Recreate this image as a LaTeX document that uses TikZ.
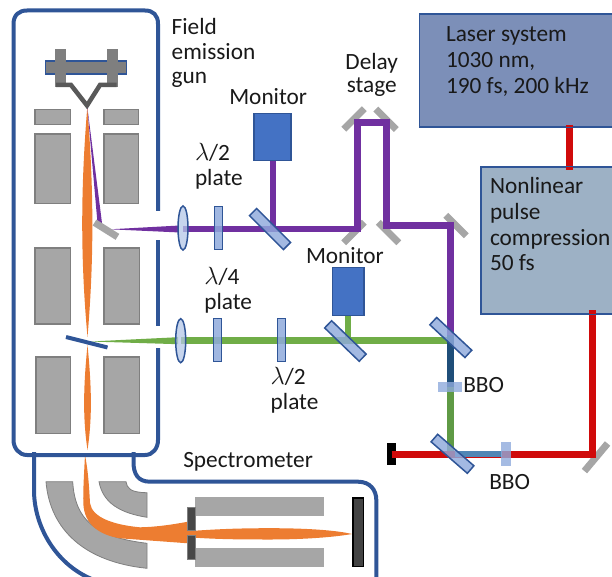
\documentclass[tikz,border=0pt]{standalone}
\usepackage{fontspec}
\setmainfont{Carlito}
\usetikzlibrary{shapes.geometric}
\definecolor{frameblue}{HTML}{2F5597}
\definecolor{plategray}{HTML}{A6A6A6}
\definecolor{edgegray}{HTML}{7F7F7F}
\definecolor{darkgray}{HTML}{595959}
\definecolor{beamorange}{HTML}{ED7D31}
\definecolor{beampurple}{HTML}{7030A0}
\definecolor{beamgreen}{HTML}{70AD47}
\definecolor{beamred}{HTML}{D00A0A}
\definecolor{beamdark}{HTML}{1F4E79}
\definecolor{beamsteel}{HTML}{4F86B5}
\definecolor{opticblue}{HTML}{8FAADC}
\definecolor{lensblue}{HTML}{B4C7E7}
\definecolor{monitorblue}{HTML}{4472C4}
\definecolor{laserfill}{HTML}{7C8FB8}
\definecolor{nlcfill}{HTML}{9DB1C5}
\definecolor{greenlow}{HTML}{5F9A45}
\tikzset{
  lbl/.style={anchor=base west,inner sep=0pt,outer sep=0pt,font=\fontsize{23.3}{27}\selectfont,text=black!90},
  lblc/.style={lbl,anchor=base},
  frame/.style={draw=frameblue,line width=4pt},
  plate/.style={fill=plategray,draw=edgegray,line width=1.5pt},
  sector/.style={fill=plategray,draw=edgegray,line width=.8pt},
  flatplate/.style={fill=plategray,draw=none},
  beam/.style={line width=6.5pt},
  mirror/.style={rectangle,fill=plategray,inner sep=0pt,minimum width=29pt,minimum height=7pt},
  splitter/.style={rectangle,fill=opticblue,fill opacity=.82,draw=frameblue,line width=1.5pt,inner sep=0pt,minimum width=48pt,minimum height=10pt},
  wave/.style={rectangle,fill=opticblue,fill opacity=.85,draw=frameblue,line width=1.5pt,inner sep=0pt,minimum width=8pt,minimum height=43pt},
  lens/.style={ellipse,fill=lensblue,fill opacity=.75,draw=frameblue,line width=1.5pt,inner sep=0pt,minimum width=10pt,minimum height=44pt},
  crystalh/.style={rectangle,fill=opticblue,fill opacity=.8,inner sep=0pt,minimum width=24pt,minimum height=10pt},
  crystalv/.style={rectangle,fill=opticblue,fill opacity=.8,inner sep=0pt,minimum width=10pt,minimum height=24pt},
  monitor/.style={rectangle,fill=monitorblue,draw=frameblue,line width=1.5pt,inner sep=0pt},
  system/.style={rectangle,draw=frameblue,line width=1.5pt,inner sep=0pt},
}
\begin{document}
\begin{tikzpicture}[x=1pt,y=-1pt]
\path[use as bounding box] (0,0) rectangle (612,577);
\clip (0,0) rectangle (612,577);

% coordinates of the beam paths
\coordinate (pl) at (183,229);
\coordinate (pa) at (357.3,229);
\coordinate (pb) at (357.3,122.7);
\coordinate (pc) at (386.7,122.7);
\coordinate (pd) at (386.7,225.5);
\coordinate (pe) at (450.3,225.5);
\coordinate (pf) at (450.3,335);
\coordinate (pg) at (450.3,387);
\coordinate (gl) at (181,340.7);
\coordinate (ga) at (450.3,340.7);
\coordinate (gb) at (450.3,454);
\coordinate (ra) at (592.3,454);
\coordinate (rb) at (592.3,310);
\coordinate (rc) at (569.5,125);
\coordinate (rd) at (569.5,170);

% spectrometer enclosure
\draw[frame] (34,452) -- (34,490) .. controls (34,530) and (60,570) .. (100,582);
\draw[frame] (133.5,452) -- (133.5,462) .. controls (133.5,474) and (138,481.7) .. (150,481.7)
  -- (358,481.7) .. controls (370,481.7) and (376.3,490) .. (376.3,500) -- (376.3,582);

% sector magnet
\draw[sector] (46,481.7) .. controls (50,530) and (85,562) .. (147,568.3) -- (147,543.3)
  .. controls (95,537) and (75,520) .. (72.7,481.7) -- cycle;
\draw[sector] (99,481.7) -- (126,481.7) .. controls (127,488) and (130,492.5) .. (147,492.7)
  -- (147,517.3) .. controls (120,513) and (103,503) .. (99,481.7) -- cycle;

% spectrometer plates
\fill[flatplate] (195.3,497.3) rectangle (323.7,516);
\fill[flatplate] (195.3,548.3) rectangle (323.7,567);

% electron beam
\fill[beamorange] (87.3,107) .. controls (80.5,190) and (80.5,260) .. (87.5,337)
  .. controls (94,260) and (94,190) .. (87.3,107) -- cycle;
\fill[beamorange] (87.5,345) .. controls (83,390) and (83,420) .. (87.5,450)
  .. controls (92,420) and (92,390) .. (87.5,345) -- cycle;
\fill[beamorange] (85,455) .. controls (84,475) and (83,490) .. (83.3,503)
  .. controls (84,525) and (100,535) .. (120,538.3) -- (188,543.3) -- (195,537.7)
  .. controls (220,539.3) and (240,539.5) .. (270,539.5)
  .. controls (305,539.5) and (335,537) .. (352,534)
  .. controls (335,530) and (305,528.2) .. (270,528.2)
  .. controls (240,528.2) and (220,529) .. (195,530.7) -- (188,521.7)
  .. controls (170,525) and (155,527) .. (140,527.3)
  .. controls (115,525) and (92,518) .. (90,503)
  .. controls (89,485) and (88,470) .. (85,455) -- cycle;

% aperture and detector
\fill[darkgray!80!black,draw=edgegray,line width=.6pt] (187.7,507.7) rectangle (195.3,530.7);
\fill[darkgray!80!black,draw=edgegray,line width=.6pt] (187.7,535.7) rectangle (195.3,559);
\draw[fill=darkgray!75!black,draw=black,line width=1.5pt] (352.8,498) rectangle (363.6,566.5);

% gun body
\node[rectangle,fill=edgegray,draw=frameblue,line width=1.5pt,inner sep=0pt,minimum width=81pt,minimum height=13pt] (plateg) at (86,67.7) {};
\fill[edgegray] (55,49) rectangle (66,87);
\fill[edgegray] (107,49) rectangle (117.5,87);
\draw[darkgray,line width=4.5pt,line join=miter] (56,85) -- (71,85) -- (87,105.5) -- (100,85) -- (116.5,85);

% column plates
\draw[plate] (35,109.5) rectangle (70.5,124.5);
\draw[plate] (104,109.5) rectangle (138.5,124.5);
\draw[plate] (35,134) rectangle (70.5,203.5);
\draw[plate] (104,134) rectangle (138.5,203.5);
\draw[plate] (35,248) rectangle (70.5,324);
\draw[plate] (104,248) rectangle (139.5,324);
\draw[plate] (36,357) rectangle (70.5,433.5);
\draw[plate] (104,357) rectangle (139.5,433.5);

% gun frame with the two window gaps
\draw[frame] (158,211) -- (158,24) .. controls (158,15) and (153,10.5) .. (145,10.5)
  -- (27,10.5) .. controls (19,10.5) and (13.5,15) .. (13.5,24)
  -- (13.5,440) .. controls (13.5,448) and (19,455) .. (27,455)
  -- (145,455) .. controls (153,455) and (158,448) .. (158,440) -- (158,348);
\draw[frame] (158,240) -- (158,326);

% tapered beams inside the column
\fill[beampurple] (87.3,107) -- (97.5,223) -- (102,223) -- cycle;
\fill[beampurple] (110,229.3) -- (178,225.6) -- (178,232.4) -- cycle;
\fill[beamgreen] (90,341.5) -- (178,337.2) -- (178,344.2) -- cycle;

% boxes
\node[system,fill=laserfill,minimum width=201pt,minimum height=112.7pt] (laser) at (520,70.6) {};
\node[system,fill=nlcfill,minimum width=140pt,minimum height=146.7pt] (nlc) at (551,240.6) {};
\node[monitor,minimum width=37pt,minimum height=47pt] (mon1) at (272.5,136.8) {};
\node[monitor,minimum width=31.5pt,minimum height=48.4pt] (mon2) at (348.2,291.5) {};

% mirrors
\node[mirror,rotate=-32,minimum width=27pt] (mgun) at (106,229.7) {};
\node[mirror,rotate=45] (d1) at (354,119) {};
\node[mirror,rotate=-45] (d2) at (386,119.3) {};
\node[mirror,rotate=45] (d3) at (354,232.5) {};
\node[mirror,rotate=-45] (d4) at (388.5,232.5) {};
\node[mirror,rotate=-45] (d5) at (456,225.5) {};
\node[mirror,rotate=50,minimum width=36pt] (d6) at (596,457.3) {};
\node[rectangle,fill=black,inner sep=0pt,minimum width=8.5pt,minimum height=22.5pt] (stop) at (391.5,454) {};

% beams
\draw[beam,beampurple] (pl) -- (pa) -- (pb) -- (pc) -- (pd) -- (pe) -- (pf);
\draw[beam,beampurple,line width=6pt] (mon1.south) -- (mon1.south |- pa);
\draw[beam,beamgreen] (gl) -- (ga);
\draw[beam,beamgreen] (mon2.south) -- (mon2.south |- ga);
\draw[beam,greenlow] (ga) -- (gb);
\draw[beam,beamdark] (pf) -- (pg);
\draw[beam,beamred,line width=7pt] (stop.center) -- (ra) -- (rb);
\draw[beam,beamsteel,line width=6pt] (455,454) -- (502,454);
\draw[beam,beamred,line width=7pt] (rc) -- (rd);

% boxes redrawn edge over beams
\draw[frameblue,line width=1.5pt] (laser.south west) -- (laser.south east);
\draw[frameblue,line width=1.5pt] (nlc.north west) -- (nlc.north east);
\draw[frameblue,line width=1.5pt] (nlc.south west) -- (nlc.south east);

% optics
\node[lens] (l1) at (183,228) {};
\node[wave] (w1) at (218.5,228) {};
\node[splitter,rotate=-45] (s1) at (270,229) {};
\node[lens] (l2) at (180.7,340.7) {};
\node[wave] (w2) at (217.5,340.2) {};
\node[wave] (w3) at (281.5,340.2) {};
\node[splitter,rotate=-44] (s2) at (345.4,341) {};
\node[splitter,rotate=-43] (s3) at (450.8,337.5) {};
\node[splitter,rotate=-41] (s4) at (452.5,453.8) {};
\node[crystalh] (b1) at (449.8,387.3) {};
\node[crystalv] (b2) at (505.8,454) {};
\draw[frameblue,line width=4pt] (66,337) -- (107.5,347.5);

% labels
\node[lbl] (t1) at (171.7,35) {Field};
\node[lbl] (t2) at (171.7,60) {emission};
\node[lbl] (t3) at (171.7,84) {gun};
\node[lblc] (t4) at (371.7,69.3) {Delay};
\node[lblc] (t5) at (371.7,93) {stage};
\node[lbl] (t6) at (229.3,104.3) {Monitor};
\node[lbl] (t7) at (195,160.7) {$\lambda$/2};
\node[lbl] (t8) at (195,186) {plate};
\node[lbl] (t9) at (204.3,284) {$\lambda$/4};
\node[lbl] (t10) at (204.3,309.3) {plate};
\node[lbl] (t11) at (270.7,384) {$\lambda$/2};
\node[lbl] (t12) at (270.7,409.3) {plate};
\node[lbl] (t13) at (306,263.3) {Monitor};
\node[lbl] (t14) at (463.3,392.7) {BBO};
\node[lbl] (t15) at (489.3,489) {BBO};
\node[lbl] (t16) at (183.3,467.7) {Spectrometer};
\node[lbl] (t17) at (446,41.7) {Laser system};
\node[lbl] (t18) at (446,67.7) {1030 nm,};
\node[lbl] (t19) at (446,93.3) {190 fs, 200 kHz};
\node[lbl] (t20) at (490,193.3) {Nonlinear};
\node[lbl] (t21) at (490,219) {pulse};
\node[lbl] (t22) at (490,245) {compression};
\node[lbl] (t23) at (490,270) {50 fs};
\end{tikzpicture}
\end{document}
